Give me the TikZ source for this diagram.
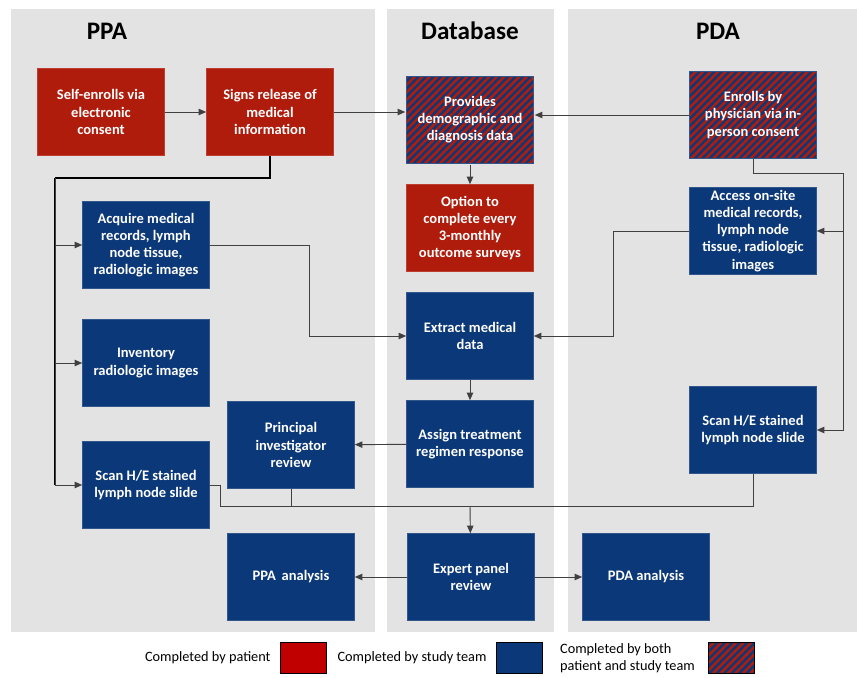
\documentclass[tikz,border=0pt]{standalone}
\usepackage{fontspec}
\setmainfont{Carlito}
\usetikzlibrary{positioning,arrows.meta,patterns.meta}

\definecolor{patientred}{RGB}{176,28,12}
\definecolor{teamblue}{RGB}{11,56,120}
\definecolor{keyred}{RGB}{192,0,0}
\definecolor{panelgray}{RGB}{227,227,227}
\definecolor{linegray}{RGB}{64,64,64}

\tikzset{
  box/.style={minimum width=3.81cm, minimum height=2.61cm, inner sep=0pt,
    align=center, text=white, line width=0.5pt,
    font=\bfseries\fontsize{12.4}{14.6}\selectfont},
  patientbox/.style={box, fill=patientred, draw=patientred!85!white},
  teambox/.style={box, fill=teamblue, draw=teamblue!85!white},
  hatched/.style={preaction={fill=teamblue},
    pattern={Lines[angle=45,distance=4.5pt,line width=2.2pt]},
    pattern color=patientred},
  bothbox/.style={box, hatched, draw=teamblue!85!white},
  title/.style={font=\bfseries\fontsize{21.5}{25}\selectfont},
  conn/.style={draw=linegray, line width=0.8pt,
    -{Triangle[length=6.5pt,width=5.5pt]}},
  feed/.style={draw=black, line width=1.6pt},
  keybox/.style={minimum width=1.38cm, minimum height=0.93cm, inner sep=0pt,
    draw=black, line width=0.6pt},
  keytext/.style={font=\fontsize{12.2}{14.5}\selectfont, align=left}
}

\begin{document}
\begin{tikzpicture}[x=0.03cm, y=-0.03cm]
                \useasboundingbox (0,0) rectangle (857,678);

                %Draw the three lanes
                \fill[panelgray] (11,9) rectangle (375,632);
                \fill[panelgray] (387,9) rectangle (554,632);
                \fill[panelgray] (568,9) rectangle (857,632);

                \node[title] (ppa) at (107,31) {PPA};
                \node[title] (db) at (470,31) {Database};
                \node[title] (pda) at (718,31) {PDA};

                %PPA lane
                \node[patientbox] (self) at (101,112) {Self-enrolls via\\electronic\\consent};
                \node[patientbox] (signs) at (270,112) {Signs release of\\medical\\information};
                \node[teambox] (acquire) at (146,245) {Acquire medical\\records, lymph\\node tissue,\\radiologic images};
                \node[teambox] (inventory) at (146,363) {Inventory\\radiologic images};
                \node[teambox] (scanppa) at (146,485) {Scan H/E stained\\lymph node slide};
                \node[teambox] (principal) at (291,445) {Principal\\investigator\\review};
                \node[teambox] (ppaan) at (291,577) {PPA\, analysis};

                %Database lane
                \node[bothbox] (provides) at (470,120) {Provides\\demographic and\\diagnosis data};
                \node[patientbox] (option) at (470,228) {Option to\\complete every\\3-monthly\\outcome surveys};
                \node[teambox] (extract) at (470,336) {Extract medical\\data};
                \node[teambox] (assign) at (470,444) {Assign treatment\\regimen response};
                \node[teambox] (expert) at (471,577) {Expert panel\\review};

                %PDA lane
                \node[bothbox] (enrolls) at (753,115) {Enrolls by\\physician via in-\\person consent};
                \node[teambox] (access) at (753,231) {Access on-site\\medical records,\\lymph node\\tissue, radiologic\\images};
                \node[teambox] (scanpda) at (753,430) {Scan H/E stained\\lymph node slide};
                \node[teambox] (pdaan) at (646,577) {PDA analysis};

                %Turning points
                \coordinate (ppabus) at (55,178);
                \coordinate (ppamid) at (309,0);
                \coordinate (pdabus) at (843,173);
                \coordinate (pdamid) at (613,0);
                \coordinate (scanjog) at (220,506);
                \coordinate (merge) at (470,506);

                %Enrolment
                \draw[conn] (self) -- (signs);
                \draw[conn] (signs.east) -- (signs.east -| provides.west);
                \draw[conn] (enrolls.west) -- (enrolls.west -| provides.east);
                \draw[conn] (provides) -- (option);

                %PPA feed
                \draw[feed] (signs.south) |- (ppabus);
                \draw[feed] (ppabus) -- (ppabus |- scanppa.west);
                \draw[conn] (ppabus) |- (acquire.west);
                \draw[conn] (ppabus) |- (inventory.west);
                \draw[conn] (ppabus) |- (scanppa.west);
                \draw[conn] (acquire.east) -- (acquire.east -| ppamid) |- (extract.west);

                %PDA feed
                \draw[conn] (enrolls.south) |- (pdabus) |- (access.east);
                \draw[conn] (pdabus) |- (scanpda.east);
                \draw[conn] (access.west) -- (access.west -| pdamid) |- (extract.east);

                %Review
                \draw[conn] (extract) -- (assign);
                \draw[conn] (assign) -- (principal);
                \draw[draw=linegray, line width=0.8pt] (scanppa.east) -| (scanjog) -- (merge);
                \draw[draw=linegray, line width=0.8pt] (principal.south) |- (merge);
                \draw[draw=linegray, line width=0.8pt] (scanpda.south) |- (merge);
                \draw[conn] (merge) -- (expert);
                \draw[conn] (expert) -- (ppaan);
                \draw[conn] (expert) -- (pdaan);

                %Legend
                \node[keybox, fill=keyred] (keypatient) at (303,658) {};
                \node[keytext, left=0.15cm of keypatient] (keypatienttext) {Completed by patient};
                \node[keybox, fill=teamblue] (keyteam) at (519,658) {};
                \node[keytext, left=0.15cm of keyteam] (keyteamtext) {Completed by study team};
                \node[keybox, hatched] (keyboth) at (731,658) {};
                \node[keytext, anchor=west] (keybothtext) at (556,658) {Completed by both\\patient and study team};

            \end{tikzpicture}
\end{document}
